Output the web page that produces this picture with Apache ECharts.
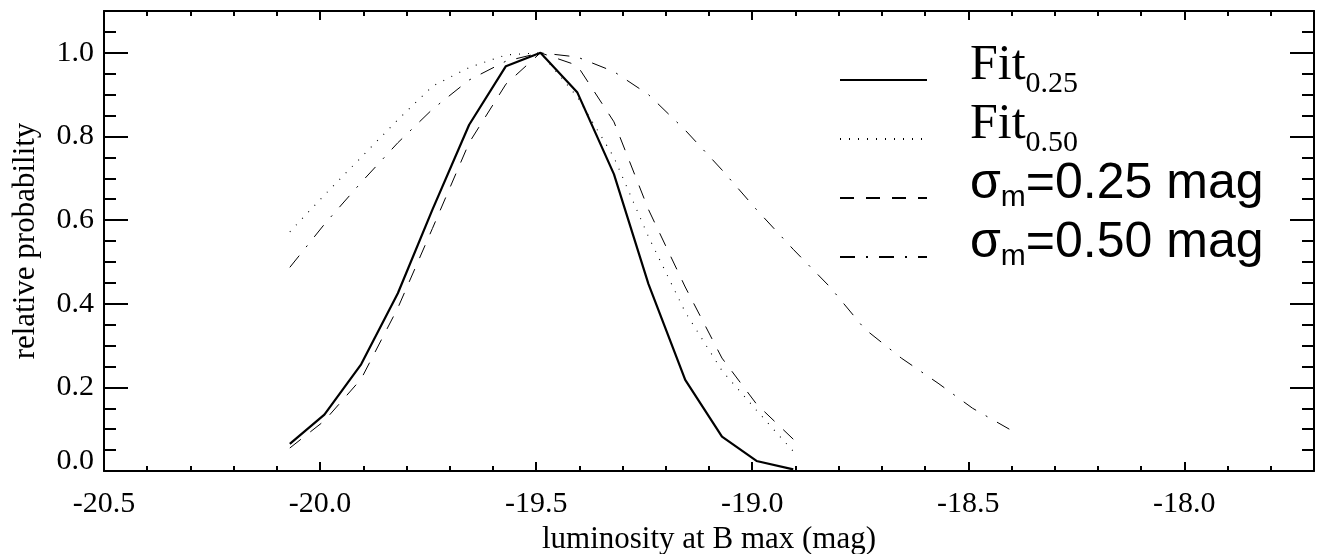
<!DOCTYPE html>
<html>
<head>
<meta charset="utf-8">
<script src="https://cdn.jsdelivr.net/npm/echarts@6/dist/echarts.min.js"></script>
<style>
  html, body { margin: 0; padding: 0; background: #fff; }
  #chart { width: 1323px; height: 554px; }
</style>
</head>
<body>
<div id="chart"></div>
<script>
// luminosity grid (mag) of the model curves
var magFit = [-20.07, -19.99, -19.905, -19.82, -19.74, -19.655, -19.57, -19.49,
              -19.405, -19.32, -19.24, -19.155, -19.07, -18.99, -18.905];
var magWide = magFit.concat([-18.82, -18.74, -18.655, -18.57, -18.49, -18.405]);

// relative probability values
var fit025 = [0.065, 0.135, 0.255, 0.425, 0.625, 0.828, 0.968, 1.0,
              0.906, 0.71, 0.447, 0.218, 0.082, 0.024, 0.004];
var fit050 = [0.572, 0.66, 0.75, 0.84, 0.92, 0.965, 0.995, 1.0,
              0.895, 0.75, 0.56, 0.38, 0.24, 0.145, 0.047];
var sig025 = [0.055, 0.12, 0.22, 0.39, 0.58, 0.785, 0.925, 1.0,
              0.97, 0.835, 0.625, 0.44, 0.27, 0.16, 0.076];
var sig050 = [0.487, 0.59, 0.69, 0.785, 0.865, 0.935, 0.98, 1.0,
              0.99, 0.955, 0.90, 0.815, 0.72, 0.625, 0.53,
              0.44, 0.34, 0.27, 0.21, 0.15, 0.10];

var names = ['Fit0.25', 'Fit0.50', 'σm=0.25 mag', 'σm=0.50 mag'];
var legendText = {
  'Fit0.25': '{sp|}{fit|Fit}{fsub|0.25}',
  'Fit0.50': '{sp|}{fit|Fit}{fsub|0.50}',
  'σm=0.25 mag': '{sp|}{sig|σ}{ssub|m}{sig|=0.25 mag}',
  'σm=0.50 mag': '{sp|}{sig|σ}{ssub|m}{sig|=0.50 mag}'
};

function pairs(xs, ys) {
  return ys.map(function (y, i) { return [xs[i], y]; });
}

var serif = 'Liberation Serif';

function xAx(pos, step, len, main) {
  return {
    type: 'value', position: pos, min: -20.5, max: -17.7, interval: step,
    axisLine: { show: main, onZero: false, lineStyle: { color: '#000', width: 2 } },
    axisTick: { show: true, inside: true, length: len, lineStyle: { color: '#000', width: 2 } },
    axisLabel: {
      show: main && pos === 'bottom', margin: 18, showMaxLabel: false,
      fontFamily: serif, fontSize: 30, color: '#000',
      formatter: function (v) { return v.toFixed(1); }
    },
    splitLine: { show: false },
    name: (main && pos === 'bottom') ? 'luminosity at B max (mag)' : '',
    nameLocation: 'middle', nameGap: 48,
    nameTextStyle: { fontFamily: serif, fontSize: 31, color: '#000' }
  };
}

function yAx(pos, step, len, main) {
  return {
    type: 'value', position: pos, min: 0, max: 1.1, interval: step,
    axisLine: { show: main, onZero: false, lineStyle: { color: '#000', width: 2 } },
    axisTick: { show: true, inside: true, length: len, lineStyle: { color: '#000', width: 2 } },
    axisLabel: {
      show: main && pos === 'left', margin: 10, showMaxLabel: false,
      fontFamily: serif, fontSize: 30, color: '#000',
      formatter: function (v) { return v === 0 ? '{z|0.0}' : v.toFixed(1); },
      rich: { z: { fontFamily: serif, fontSize: 30, lineHeight: 50, verticalAlign: 'top' } }
    },
    splitLine: { show: false },
    name: (main && pos === 'left') ? 'relative probability' : '',
    nameLocation: 'middle', nameGap: 63,
    nameTextStyle: { fontFamily: serif, fontSize: 31, color: '#000' }
  };
}

var chart = echarts.init(document.getElementById('chart'));
chart.setOption({
  animation: false,
  backgroundColor: '#fff',
  grid: { left: 104, top: 11, width: 1210, height: 460, containLabel: false, outerBoundsMode: 'none' },
  xAxis: [xAx('bottom', 0.5, 9, true), xAx('bottom', 0.1, 5, false),
          xAx('top', 0.5, 9, true), xAx('top', 0.1, 5, false)],
  yAxis: [yAx('left', 0.2, 24, true), yAx('left', 0.05, 12, false),
          yAx('right', 0.2, 24, true), yAx('right', 0.05, 12, false)],
  legend: {
    data: names, orient: 'vertical', left: 839, top: 41, padding: 0,
    itemWidth: 87, itemHeight: 14, itemGap: 1, selectedMode: false,
    itemStyle: { opacity: 0 },
    formatter: function (n) { return legendText[n]; },
    textStyle: {
      color: '#000',
      padding: [0, 0, 28, 0],
      rich: {
        sp: { width: 38, lineHeight: 10, verticalAlign: 'top' },
        fit: { fontFamily: serif, fontSize: 50, lineHeight: 50, verticalAlign: 'top' },
        fsub: { fontFamily: serif, fontSize: 30, lineHeight: 30, padding: [28, 0, 0, 0], verticalAlign: 'top' },
        sig: { fontFamily: 'Liberation Sans', fontSize: 50, lineHeight: 50, verticalAlign: 'top' },
        ssub: { fontFamily: 'Liberation Sans', fontSize: 30, lineHeight: 30, padding: [24, 0, 4, 0], verticalAlign: 'top' }
      }
    }
  },
  series: [
    { name: names[0], type: 'line', symbol: 'none', data: pairs(magFit, fit025),
      itemStyle: { color: '#000' }, lineStyle: { color: '#000', width: 2.2 } },
    { name: names[1], type: 'line', symbol: 'none', data: pairs(magFit, fit050),
      itemStyle: { color: '#000' }, lineStyle: { color: '#000', width: 1.1, type: [1, 8] } },
    { name: names[2], type: 'line', symbol: 'none', data: pairs(magFit, sig025),
      itemStyle: { color: '#000' }, lineStyle: { color: '#000', width: 1, type: [14, 12] } },
    { name: names[3], type: 'line', symbol: 'none', data: pairs(magWide, sig050),
      itemStyle: { color: '#000' }, lineStyle: { color: '#000', width: 1, type: [15, 11, 2, 11] } }
  ]
});
</script>
</body>
</html>
